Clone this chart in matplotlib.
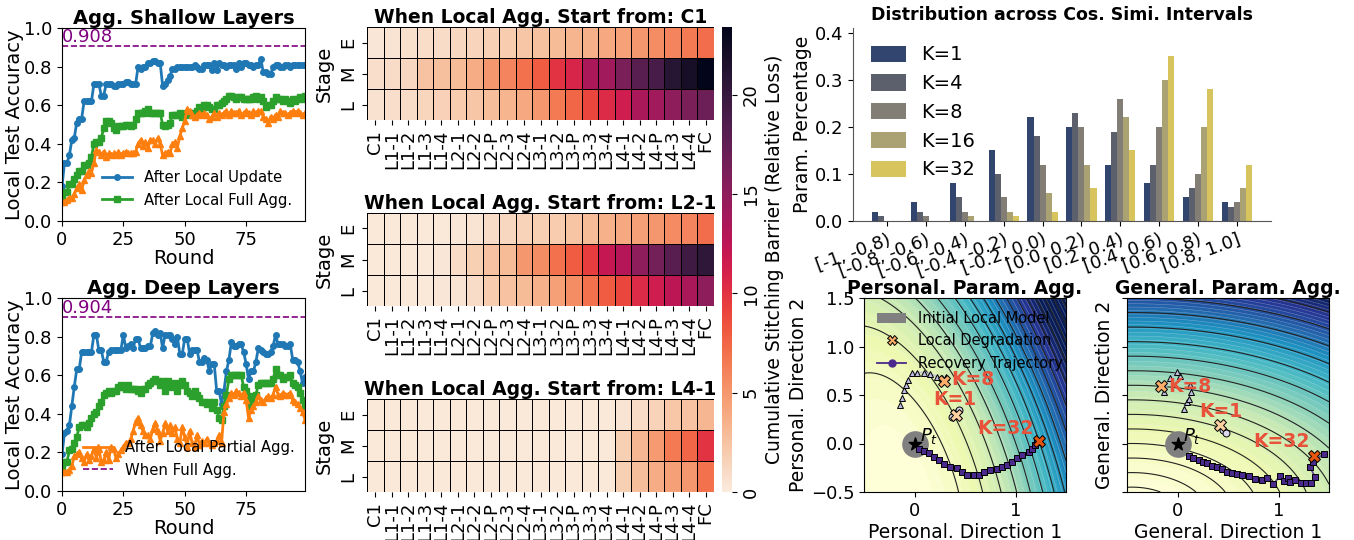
import numpy as np
import matplotlib
matplotlib.use("Agg")
import matplotlib.pyplot as plt
import seaborn as sns
from matplotlib.colors import PowerNorm
from matplotlib.patches import Patch
from matplotlib.lines import Line2D

W, H = 1354, 540
rounds = np.arange(100)

# ---- line charts (local test accuracy per round) ----
shallow_update = [0.18, 0.30, 0.30, 0.34, 0.42, 0.43, 0.51, 0.53, 0.53, 0.62,
                  0.62, 0.62, 0.62, 0.71, 0.71, 0.71, 0.65, 0.65, 0.71, 0.71,
                  0.71, 0.70, 0.70, 0.71, 0.71, 0.71, 0.72, 0.72, 0.71, 0.71,
                  0.71, 0.80, 0.79, 0.80, 0.80, 0.82, 0.82, 0.83, 0.83, 0.82,
                  0.82, 0.70, 0.71, 0.73, 0.75, 0.79, 0.79, 0.80, 0.80, 0.80,
                  0.80, 0.80, 0.80, 0.80, 0.81, 0.80, 0.79, 0.79, 0.81, 0.81,
                  0.81, 0.78, 0.82, 0.78, 0.82, 0.81, 0.81, 0.80, 0.81, 0.81,
                  0.81, 0.79, 0.82, 0.80, 0.82, 0.82, 0.81, 0.81, 0.80, 0.81,
                  0.81, 0.84, 0.77, 0.77, 0.76, 0.76, 0.80, 0.81, 0.81, 0.80,
                  0.80, 0.81, 0.81, 0.80, 0.81, 0.81, 0.81, 0.81, 0.81, 0.81]
shallow_full = [0.13, 0.15, 0.15, 0.19, 0.19, 0.22, 0.24, 0.26, 0.26, 0.29,
                0.29, 0.30, 0.33, 0.40, 0.41, 0.41, 0.43, 0.48, 0.52, 0.52,
                0.51, 0.48, 0.47, 0.49, 0.49, 0.49, 0.50, 0.50, 0.49, 0.50,
                0.53, 0.56, 0.56, 0.56, 0.57, 0.58, 0.56, 0.56, 0.56, 0.56,
                0.56, 0.50, 0.49, 0.50, 0.51, 0.55, 0.55, 0.55, 0.56, 0.54,
                0.55, 0.56, 0.56, 0.55, 0.56, 0.57, 0.59, 0.58, 0.60, 0.60,
                0.59, 0.58, 0.58, 0.60, 0.60, 0.61, 0.62, 0.63, 0.65, 0.65,
                0.64, 0.63, 0.64, 0.64, 0.63, 0.63, 0.63, 0.63, 0.64, 0.65,
                0.63, 0.64, 0.62, 0.59, 0.60, 0.60, 0.62, 0.64, 0.63, 0.63,
                0.62, 0.63, 0.62, 0.61, 0.63, 0.62, 0.63, 0.64, 0.63, 0.65]
shallow_partial = [0.10, 0.10, 0.11, 0.12, 0.12, 0.14, 0.17, 0.19, 0.16, 0.21,
                   0.24, 0.26, 0.25, 0.30, 0.37, 0.36, 0.34, 0.36, 0.33, 0.35,
                   0.34, 0.35, 0.34, 0.36, 0.34, 0.35, 0.36, 0.35, 0.35, 0.35,
                   0.36, 0.40, 0.42, 0.39, 0.41, 0.38, 0.42, 0.42, 0.40, 0.43,
                   0.40, 0.34, 0.35, 0.36, 0.35, 0.40, 0.41, 0.38, 0.44, 0.48,
                   0.52, 0.58, 0.57, 0.55, 0.54, 0.55, 0.56, 0.55, 0.56, 0.55,
                   0.53, 0.54, 0.56, 0.54, 0.56, 0.55, 0.56, 0.57, 0.55, 0.57,
                   0.56, 0.56, 0.57, 0.55, 0.56, 0.57, 0.56, 0.55, 0.57, 0.56,
                   0.57, 0.57, 0.54, 0.53, 0.51, 0.54, 0.53, 0.55, 0.54, 0.57,
                   0.56, 0.56, 0.55, 0.56, 0.57, 0.56, 0.57, 0.56, 0.55, 0.56]
deep_update = [0.19, 0.30, 0.31, 0.34, 0.44, 0.54, 0.63, 0.63, 0.72, 0.72,
               0.72, 0.72, 0.72, 0.81, 0.81, 0.73, 0.73, 0.67, 0.67, 0.72,
               0.73, 0.73, 0.73, 0.73, 0.73, 0.81, 0.74, 0.75, 0.76, 0.74,
               0.79, 0.79, 0.74, 0.74, 0.74, 0.75, 0.75, 0.82, 0.83, 0.81,
               0.82, 0.74, 0.81, 0.81, 0.81, 0.79, 0.76, 0.80, 0.71, 0.71,
               0.79, 0.79, 0.71, 0.73, 0.73, 0.73, 0.67, 0.67, 0.69, 0.68,
               0.62, 0.66, 0.66, 0.52, 0.52, 0.45, 0.52, 0.62, 0.68, 0.77,
               0.75, 0.75, 0.76, 0.76, 0.72, 0.66, 0.58, 0.62, 0.62, 0.67,
               0.74, 0.73, 0.72, 0.71, 0.71, 0.72, 0.75, 0.81, 0.76, 0.76,
               0.76, 0.75, 0.75, 0.76, 0.68, 0.68, 0.67, 0.62, 0.56, 0.59]
deep_full = [0.12, 0.15, 0.15, 0.21, 0.22, 0.25, 0.28, 0.33, 0.34, 0.34,
             0.33, 0.35, 0.38, 0.40, 0.41, 0.44, 0.46, 0.50, 0.51, 0.52,
             0.51, 0.52, 0.52, 0.54, 0.55, 0.54, 0.53, 0.55, 0.53, 0.53,
             0.53, 0.52, 0.51, 0.53, 0.53, 0.55, 0.56, 0.57, 0.58, 0.57,
             0.55, 0.57, 0.52, 0.57, 0.55, 0.54, 0.56, 0.52, 0.55, 0.57,
             0.55, 0.52, 0.51, 0.49, 0.52, 0.50, 0.48, 0.46, 0.46, 0.45,
             0.46, 0.43, 0.46, 0.42, 0.38, 0.37, 0.44, 0.50, 0.58, 0.60,
             0.60, 0.60, 0.60, 0.60, 0.54, 0.52, 0.49, 0.44, 0.47, 0.50,
             0.55, 0.56, 0.56, 0.56, 0.56, 0.56, 0.58, 0.63, 0.60, 0.60,
             0.58, 0.59, 0.59, 0.60, 0.56, 0.55, 0.54, 0.51, 0.47, 0.44]
deep_partial = [0.10, 0.10, 0.10, 0.11, 0.13, 0.18, 0.19, 0.20, 0.17, 0.15,
                0.19, 0.16, 0.18, 0.22, 0.17, 0.22, 0.15, 0.16, 0.20, 0.16,
                0.23, 0.22, 0.17, 0.19, 0.21, 0.23, 0.25, 0.25, 0.27, 0.31,
                0.36, 0.38, 0.34, 0.31, 0.29, 0.29, 0.27, 0.32, 0.35, 0.31,
                0.26, 0.30, 0.35, 0.31, 0.34, 0.30, 0.33, 0.27, 0.25, 0.33,
                0.28, 0.23, 0.31, 0.25, 0.23, 0.29, 0.24, 0.26, 0.25, 0.27,
                0.25, 0.24, 0.25, 0.26, 0.29, 0.25, 0.41, 0.45, 0.48, 0.51,
                0.50, 0.52, 0.51, 0.49, 0.51, 0.47, 0.38, 0.42, 0.44, 0.46,
                0.49, 0.47, 0.46, 0.48, 0.49, 0.48, 0.50, 0.54, 0.50, 0.49,
                0.51, 0.50, 0.50, 0.51, 0.47, 0.46, 0.45, 0.43, 0.41, 0.37]
shallow_best = 0.908
deep_best = 0.904

# ---- heatmaps: stitching barrier per layer / stage ----
layers = ["C1", "L1-1", "L1-2", "L1-3", "L1-4", "L2-1", "L2-2", "L2-P", "L2-3", "L2-4",
          "L3-1", "L3-2", "L3-P", "L3-3", "L3-4", "L4-1", "L4-2", "L4-P", "L4-3", "L4-4", "FC"]
stages = ["E", "M", "L"]
start_c1 = [
    [0.3, 0.5, 0.7, 0.9, 1.0, 1.2, 1.4, 1.7, 2.0, 2.3, 2.6, 3.0, 3.3, 3.6, 4.0, 4.4, 5.0, 5.5, 6.0, 6.5, 7.2],
    [0.8, 1.0, 1.2, 2.5, 2.7, 3.0, 3.8, 5.0, 6.0, 7.0, 8.0, 10.0, 10.8, 13.5, 14.0, 16.0, 18.0, 19.0, 21.0, 22.0, 23.4],
    [0.6, 0.8, 1.0, 1.3, 1.6, 2.0, 2.3, 2.8, 3.3, 4.0, 5.0, 6.5, 7.5, 9.0, 10.5, 11.5, 13.5, 14.0, 15.0, 16.0, 17.0],
]
start_l21 = [
    [0.2, 0.2, 0.2, 0.2, 0.2, 0.3, 0.5, 1.0, 1.2, 1.5, 1.8, 2.0, 2.4, 3.0, 3.5, 4.0, 4.5, 5.0, 5.6, 6.0, 7.2],
    [0.2, 0.2, 0.2, 0.2, 0.3, 1.0, 1.8, 2.5, 3.0, 5.0, 5.5, 7.0, 8.0, 9.5, 12.0, 13.0, 15.0, 16.5, 18.0, 19.5, 20.5],
    [0.2, 0.2, 0.2, 0.2, 0.3, 0.5, 1.0, 2.0, 2.5, 3.0, 3.5, 4.5, 5.5, 7.0, 8.0, 9.0, 10.5, 11.5, 12.5, 13.5, 15.0],
]
start_l41 = [
    [0.2] * 15 + [0.5, 1.0, 1.5, 2.2, 2.5, 3.2],
    [0.2] * 15 + [1.8, 3.2, 4.8, 6.5, 7.5, 10.0],
    [0.2] * 15 + [1.8, 2.8, 3.8, 4.5, 5.0, 7.0],
]
heat_titles = ["When Local Agg. Start from: C1", "When Local Agg. Start from: L2-1",
               "When Local Agg. Start from: L4-1"]

# ---- bar chart ----
intervals = ["[-1, -0.8)", "[-0.8, -0.6)", "[-0.6, -0.4)", "[-0.4, -0.2)", "[-0.2, 0.0)",
             "[0.0, 0.2)", "[0.2, 0.4)", "[0.4, 0.6)", "[0.6, 0.8)", "[0.8, 1.0]"]
k_names = ["K=1", "K=4", "K=8", "K=16", "K=32"]
k1 = [0.02, 0.04, 0.08, 0.15, 0.22, 0.20, 0.12, 0.08, 0.05, 0.04]
k4 = [0.01, 0.02, 0.05, 0.10, 0.18, 0.23, 0.19, 0.12, 0.07, 0.03]
k8 = [0.001, 0.01, 0.02, 0.05, 0.12, 0.20, 0.26, 0.20, 0.10, 0.04]
k16 = [0.001, 0.001, 0.01, 0.02, 0.06, 0.12, 0.22, 0.30, 0.20, 0.07]
k32 = [0.001, 0.0, 0.001, 0.01, 0.02, 0.07, 0.15, 0.35, 0.28, 0.12]
k_colors = ["#32456e", "#5c5f6c", "#827e76", "#aba274", "#d8c45c"]

# ---- loss landscapes: quadratic-form parameters ----
pers_center, pers_form = (-0.15, -0.45), (1.0, 0.3, 0.5)
gen_center, gen_form = (-0.45, -0.75), (0.35, 1.0, 0.0)

pers_k1 = ([0.373, 0.406, 0.439], [0.276, 0.310, 0.345])
pers_k8 = ([-0.139, -0.122, -0.106, -0.089, -0.066, -0.023, 0.026, 0.092, 0.158, 0.224, 0.274, 0.307],
           [0.397, 0.466, 0.552, 0.603, 0.655, 0.724, 0.731, 0.731, 0.717, 0.690, 0.672, 0.690])
pers_k32 = ([0.043, 0.092, 0.142, 0.191, 0.241, 0.290, 0.356, 0.422, 0.472, 0.521, 0.587, 0.637,
             0.686, 0.752, 0.818, 0.868, 0.917, 0.967, 1.017, 1.066, 1.132, 1.165, 1.198, 1.215],
            [-0.052, -0.076, -0.103, -0.138, -0.172, -0.207, -0.241, -0.252, -0.293, -0.328, -0.328, -0.321,
             -0.293, -0.276, -0.259, -0.241, -0.224, -0.190, -0.148, -0.121, -0.086, -0.052, -0.017, 0.017])
pers_degr = ([0.406, 0.297, 1.23], [0.293, 0.645, 0.03])
pers_text = ([0.19, 0.36, 0.62], [0.45, 0.655, 0.155])

gen_k1 = ([0.455, 0.482], [0.141, 0.110])
gen_k8 = ([0.066, 0.092, 0.109, 0.132, 0.119, 0.026, -0.007, -0.073, -0.132],
          [0.357, 0.423, 0.460, 0.536, 0.605, 0.691, 0.735, 0.674, 0.536])
gen_k32 = ([0.109, 0.158, 0.208, 0.251, 0.290, 0.340, 0.389, 0.439, 0.488, 0.538, 0.587, 0.637,
            0.703, 0.769, 0.835, 0.891, 0.950, 1.017, 1.050, 1.092, 1.116, 1.165, 1.221, 1.271,
            1.320, 1.363, 1.314, 1.340, 1.446],
           [-0.134, -0.151, -0.168, -0.186, -0.203, -0.227, -0.247, -0.261, -0.289, -0.306, -0.316, -0.323,
            -0.340, -0.364, -0.375, -0.357, -0.419, -0.330, -0.385, -0.351, -0.399, -0.375, -0.409, -0.409,
            -0.409, -0.347, -0.247, -0.192, -0.107])
gen_degr = ([0.416, -0.165, 1.347], [0.186, 0.588, -0.134])
gen_text = ([0.22, -0.09, 0.75], [0.33, 0.588, 0.02])

traj_colors = ["#dadaeb", "#bcbddc", "#4a2a8c"]
traj_markers = ["o", "^", "s"]
degr_colors = ["#fdd0a2", "#fdae6b", "#e6550d"]
k_text = ["K=1", "K=8", "K=32"]

fig = plt.figure(figsize=(W / 100, H / 100), dpi=100)


def px_axes(x0, y0, x1, y1):
    return fig.add_axes([x0 / W, 1 - y1 / H, (x1 - x0) / W, (y1 - y0) / H])


def line_panel(ax, upd, full, part, best, title):
    ax.plot(rounds, upd, "-o", color="tab:blue", lw=2, ms=4)
    ax.plot(rounds, full, "-s", color="tab:green", lw=2, ms=4)
    ax.plot(rounds, part, "-^", color="tab:orange", lw=2, ms=4)
    ax.axhline(best, color="purple", ls="--", lw=1.2)
    ax.text(0, best, f"{best:.3f}", color="purple", fontsize=13, va="bottom", ha="left")
    ax.set_xlim(0, 99)
    ax.set_ylim(0, 1)
    ax.set_xticks([0, 25, 50, 75])
    ax.set_yticks([0, 0.2, 0.4, 0.6, 0.8, 1.0])
    ax.tick_params(labelsize=13)
    ax.set_title(title, fontsize=14, fontweight="bold", pad=3)
    ax.set_xlabel("Round", fontsize=14, labelpad=0)
    ax.set_ylabel("Local Test Accuracy", fontsize=14, labelpad=0)


ax1 = px_axes(62, 28, 305, 221)
line_panel(ax1, shallow_update, shallow_full, shallow_partial, shallow_best, "Agg. Shallow Layers")
h1 = [Line2D([], [], color="tab:blue", marker="o", lw=2, ms=4),
      Line2D([], [], color="tab:green", marker="s", lw=2, ms=4)]
ax1.legend(h1, ["After Local Update", "After Local Full Agg."], loc="lower left",
           bbox_to_anchor=(0.11, 0.0), frameon=False, fontsize=10.75)

ax2 = px_axes(62, 298, 305, 491)
line_panel(ax2, deep_update, deep_full, deep_partial, deep_best, "Agg. Deep Layers")
h2 = [Line2D([], [], color="tab:orange", marker="^", lw=2, ms=4),
      Line2D([], [], color="purple", ls="--", lw=1.2)]
ax2.legend(h2, ["After Local Partial Agg.", "When Full Agg."], loc="lower left",
           bbox_to_anchor=(0.03, 0.0), frameon=False, fontsize=10.75)

# heatmaps
cmap = sns.color_palette("rocket_r", as_cmap=True)
vmax = max(max(r) for r in start_c1 + start_l21 + start_l41)
cax = px_axes(722, 27, 732, 492)
heat_boxes = [(367, 27, 714, 120), (367, 213, 714, 306), (367, 399, 714, 492)]
for i, (data, title, box) in enumerate(zip([start_c1, start_l21, start_l41], heat_titles, heat_boxes)):
    ax = px_axes(*box)
    sns.heatmap(np.array(data), ax=ax, cmap=cmap, vmin=0, vmax=vmax, linewidths=0.5,
                linecolor="black", cbar=(i == 0), cbar_ax=cax if i == 0 else None,
                xticklabels=layers, yticklabels=stages)
    ax.set_title(title, fontsize=13.5, fontweight="bold", pad=3)
    ax.set_ylabel("Stage", fontsize=14)
    ax.tick_params(axis="x", labelsize=13, rotation=90)
    ax.tick_params(axis="y", labelsize=13, rotation=90)
    for lab in ax.get_yticklabels():
        lab.set_va("center")
cax.tick_params(labelsize=13)
for lab in cax.get_yticklabels():
    lab.set_rotation(90)
    lab.set_va("center")
cax.set_ylabel("Cumulative Stitching Barrier (Relative Loss)", fontsize=13.5)

# bar chart
axb = px_axes(853, 28, 1271, 221)
x = np.arange(len(intervals))
bw = 0.155
for i, (vals, name, col) in enumerate(zip([k1, k4, k8, k16, k32], k_names, k_colors)):
    axb.bar(x + (i - 2) * bw, vals, bw, color=col, label=name)
axb.set_ylim(0, 0.41)
axb.set_yticks([0, 0.1, 0.2, 0.3, 0.4])
axb.set_xticks(x)
axb.set_xticklabels(intervals, rotation=20, ha="right", rotation_mode="anchor")
axb.tick_params(labelsize=13)
axb.spines["top"].set_visible(False)
axb.spines["right"].set_visible(False)
axb.spines["left"].set_color("#555555")
axb.spines["bottom"].set_color("#555555")
axb.set_ylabel("Param. Percentage", fontsize=13.5, labelpad=2)
axb.set_title("Distribution across Cos. Simi. Intervals", fontsize=12.5, fontweight="bold", pad=6)
axb.legend(loc="upper left", frameon=False, fontsize=14, handlelength=1.8, handleheight=0.9)

# loss landscapes
gx = np.linspace(-0.5, 1.5, 300)
GX, GY = np.meshgrid(gx, gx)


def landscape(ax, center, form, vfrac, line_levels, trajs, degr, texts, title, name):
    dx, dy = GX - center[0], GY - center[1]
    a, b, c = form
    Z = a * dx ** 2 + b * dy ** 2 + c * dx * dy
    norm = PowerNorm(1.0, vmin=0, vmax=Z.max() * vfrac, clip=True)
    ax.contourf(GX, GY, Z, levels=60, cmap="YlGnBu", norm=norm)
    ax.contour(GX, GY, Z, levels=45, colors="white", linewidths=0.3, alpha=0.45)
    ax.contour(GX, GY, Z, levels=line_levels, colors="#222222", linewidths=0.8)
    ax.scatter([0], [0], s=330, color="grey", zorder=3)
    ax.scatter([0], [0], s=90, marker="*", color="black", zorder=4)
    ax.text(0.05, 0.03, "$P_t$", fontsize=13, zorder=5)
    for (tx, ty), col, mk in zip(trajs, traj_colors, traj_markers):
        ax.plot(tx, ty, "-", color=col, lw=1.3, alpha=0.8, zorder=4)
        ax.plot(tx, ty, ls="none", marker=mk, color=col, mec="black", mew=0.7, ms=5, zorder=5)
    for dxp, dyp, col in zip(degr[0], degr[1], degr_colors):
        ax.plot(dxp, dyp, marker="X", color=col, mec="black", mew=0.7, ms=8, ls="none", zorder=6)
    for tx, ty, t in zip(texts[0], texts[1], k_text):
        ax.text(tx, ty, t, color="#e8513a", fontsize=13.5, fontweight="bold", va="center", zorder=7)
    ax.set_xlim(-0.5, 1.5)
    ax.set_ylim(-0.5, 1.5)
    ax.set_xticks([0, 1])
    ax.set_yticks([-0.5, 0.0, 0.5, 1.0, 1.5])
    ax.tick_params(labelsize=13)
    ax.set_title(title, fontsize=13.5, fontweight="bold", pad=2)
    ax.set_xlabel(f"{name}. Direction 1", fontsize=13.5, labelpad=2)
    ax.set_ylabel(f"{name}. Direction 2", fontsize=13.5, labelpad=2)


axp = px_axes(864, 298, 1066, 492)
landscape(axp, pers_center, pers_form, 0.8, np.arange(0.33, 6.0, 0.33),
          [pers_k1, pers_k8, pers_k32], pers_degr, pers_text, "Personal. Param. Agg.", "Personal")
leg_h = [Patch(facecolor="grey"),
         Line2D([], [], marker="X", color="#fdae6b", mec="black", mew=0.7, ms=7, ls="none"),
         Line2D([], [], color="#4a2a8c", marker="o", lw=1.3, ms=5)]
axp.legend(leg_h, ["Initial Local Model", "Local Degradation", "Recovery Trajectory"],
           loc="upper left", frameon=False, fontsize=10.5)

axg = px_axes(1127, 298, 1329, 492)
landscape(axg, gen_center, gen_form, 1.0, np.arange(0.3, 2.6, 0.15) ** 2,
          [gen_k1, gen_k8, gen_k32], gen_degr, gen_text, "General. Param. Agg.", "General")
axg.set_yticklabels([])

fig.savefig("out.png", dpi=100)
